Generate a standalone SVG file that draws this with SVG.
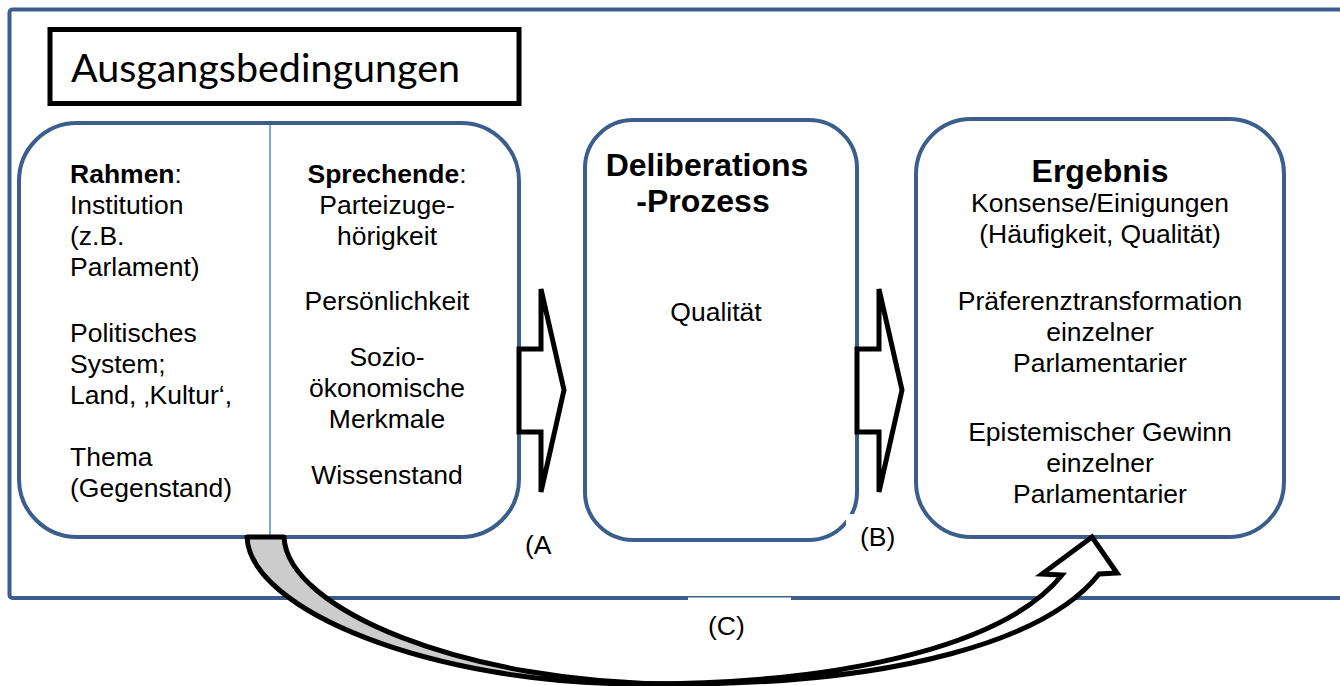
<svg xmlns="http://www.w3.org/2000/svg" width="1340" height="686" viewBox="0 0 1340 686">
<style>
.frame{fill:none;stroke:#3b5e8c;stroke-width:4}
.box{fill:#fff;stroke:#3b5e8c;stroke-width:4}
.div{stroke:#5b87c0;stroke-width:1.5}
.t{font-family:'Liberation Sans',Arial,sans-serif;font-size:26.5px;fill:#000}
.h{font-family:'Liberation Sans',Arial,sans-serif;font-size:32px;font-weight:bold;fill:#000}
.c{text-anchor:middle}
.b{font-weight:bold}
.blk{fill:#fff;stroke:#000;stroke-width:5;stroke-linejoin:miter}
.back{fill:#cccccc;stroke:#000;stroke-width:5;stroke-linejoin:round}
.front{fill:#fff;stroke:#000;stroke-width:5;stroke-linejoin:miter}
</style>
<rect x="0" y="0" width="1340" height="686" fill="#fff"/>
<rect class="frame" x="9.5" y="9.5" width="1345" height="588.5" rx="3"/>

<g id="title">
<rect x="50" y="29.5" width="469" height="74" fill="#fff" stroke="#000" stroke-width="5"/>
<text x="71" y="82" font-family="Lato,'Open Sans',sans-serif" font-size="38" textLength="389" lengthAdjust="spacingAndGlyphs">Ausgangsbedingungen</text>
</g>

<g id="box-ausgang">
<rect class="box" x="19" y="123" width="500" height="414" rx="58"/>
<line class="div" x1="270" y1="125" x2="270" y2="535"/>
<text class="t" x="70" y="183"><tspan class="b">Rahmen</tspan>:</text>
<text class="t" x="70" y="214">Institution</text>
<text class="t" x="70" y="245">(z.B.</text>
<text class="t" x="70" y="276">Parlament)</text>
<text class="t" x="70" y="342">Politisches</text>
<text class="t" x="70" y="373">System;</text>
<text class="t" x="70" y="404">Land, ‚Kultur‘,</text>
<text class="t" x="70" y="466">Thema</text>
<text class="t" x="70" y="497">(Gegenstand)</text>
<text class="t c" x="387" y="183"><tspan class="b">Sprechende</tspan>:</text>
<text class="t c" x="387" y="214">Parteizuge-</text>
<text class="t c" x="387" y="245">hörigkeit</text>
<text class="t c" x="387" y="310">Persönlichkeit</text>
<text class="t c" x="387" y="366">Sozio-</text>
<text class="t c" x="387" y="397">ökonomische</text>
<text class="t c" x="387" y="428">Merkmale</text>
<text class="t c" x="387" y="484">Wissenstand</text>
</g>

<g id="box-prozess">
<rect class="box" x="585" y="120" width="272" height="420" rx="48"/>
<text class="h c" x="707" y="176" font-size="34">Deliberations</text>
<text class="h c" x="703" y="212" font-size="34">-Prozess</text>
<text class="t c" x="716" y="321">Qualität</text>
</g>

<g id="box-ergebnis">
<rect class="box" x="916" y="119" width="368" height="418" rx="55"/>
<text class="h c" x="1100" y="182">Ergebnis</text>
<text class="t c" x="1100" y="212">Konsense/Einigungen</text>
<text class="t c" x="1100" y="243">(Häufigkeit, Qualität)</text>
<text class="t c" x="1100" y="310">Präferenztransformation</text>
<text class="t c" x="1100" y="341">einzelner</text>
<text class="t c" x="1100" y="372">Parlamentarier</text>
<text class="t c" x="1100" y="441">Epistemischer Gewinn</text>
<text class="t c" x="1100" y="472">einzelner</text>
<text class="t c" x="1100" y="503">Parlamentarier</text>
</g>

<g id="connectors">
<path class="blk" d="M519,349 L541,349 L541,289 L564,390 L541,492 L541,432 L519,432 Z"/>
<path class="blk" d="M857,349 L879,349 L879,289 L902,390 L879,492 L879,432 L857,432 Z"/>
<rect x="846" y="514" width="62" height="40" fill="#fff"/>
<rect x="688" y="597.5" width="103" height="48" fill="#fff"/>
<path class="back" d="M247,537 L284,537 C287,610 467,684 677,684 L640,684 C430,684 250,610 247,537 Z"/>
<path class="front" d="M640,684 C860,684 1010,640 1062,575 L1042,574 L1092,537 L1117,573 L1099,574 C1047,640 897,684 677,684 Z"/>
<text class="t" x="525" y="554">(A</text>
<text class="t" x="860" y="546">(B)</text>
<text class="t" x="708" y="635">(C)</text>
</g>
</svg>
